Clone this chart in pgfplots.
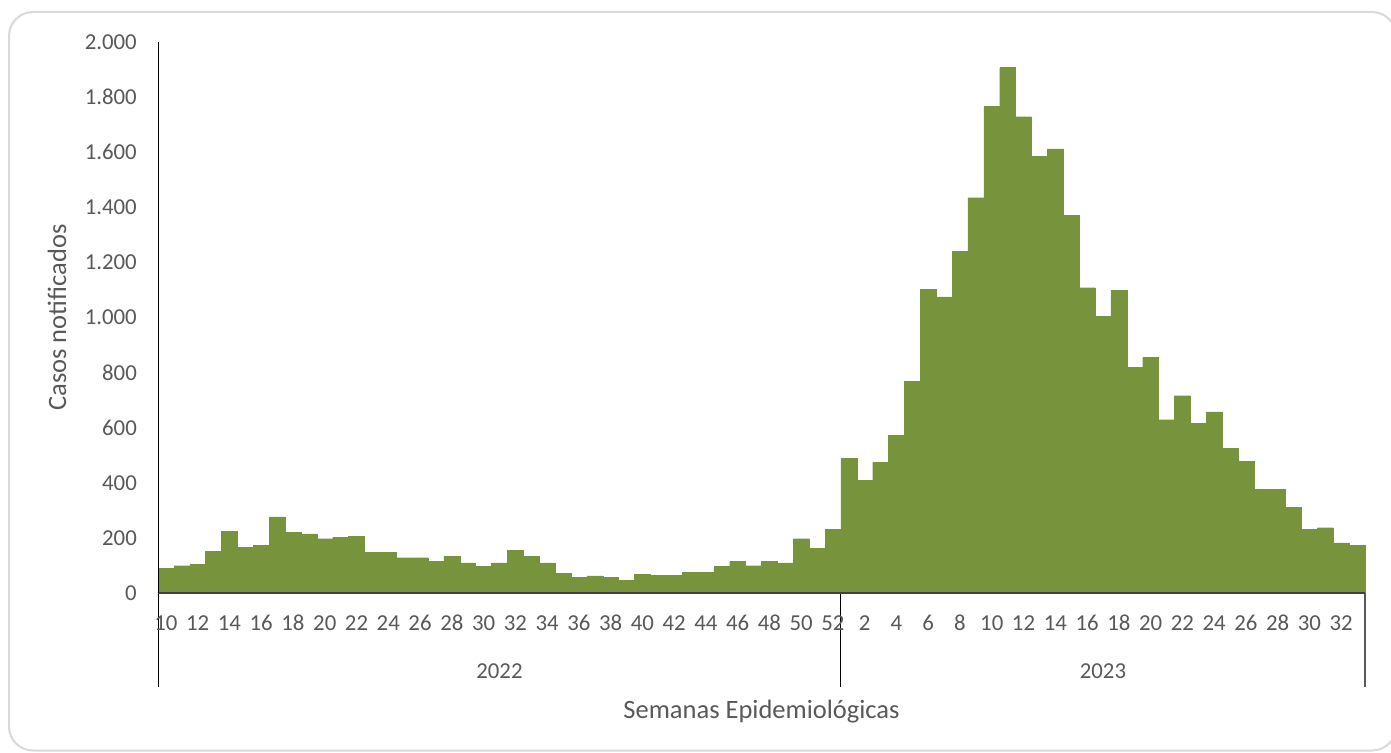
\documentclass[border=0pt]{standalone}
\usepackage{fontspec}
\setmainfont{Carlito}
\usepackage{pgfplots}
\usepackage{pgfplotstable}
\pgfplotsset{compat=1.18}
\definecolor{barc}{RGB}{119,147,60}
\definecolor{txt}{RGB}{89,89,89}
\definecolor{bord}{RGB}{217,217,217}
\definecolor{xline}{RGB}{64,64,64}
% index: 0..42 = 2022 weeks 10..52 ; 43..75 = 2023 weeks 1..33
\pgfplotstableread{
x y
0 90
1 99
2 104
3 151
4 225
5 165
6 174
7 276
8 220
9 215
10 197
11 202
12 206
13 148
14 147
15 128
16 128
17 115
18 132
19 109
20 97
21 109
22 155
23 132
24 109
25 71
26 57
27 62
28 57
29 45
30 67
31 63
32 63
33 76
34 76
35 96
36 114
37 99
38 114
39 109
40 197
41 161
42 230
43 488
44 409
45 474
46 573
47 769
48 1103
49 1075
50 1241
51 1435
52 1766
53 1907
54 1729
55 1586
56 1612
57 1370
58 1108
59 1005
60 1099
61 819
62 855
63 629
64 716
65 615
66 657
67 526
68 479
69 376
70 376
71 311
72 232
73 237
74 182
75 172
}\datatable
\begin{document}
\begin{tikzpicture}
\useasboundingbox (0,0) rectangle (1391pt,752pt);
\fill[white] (0,0) rectangle (1391pt,752pt);
\draw[bord, line width=2pt, rounded corners=24pt] (9pt,740pt) rectangle (1396pt,1.5pt);
\begin{axis}[
  at={(158pt,159pt)}, anchor=south west,
  scale only axis, width=1207pt, height=551pt,
  xmin=-0.5, xmax=75.5, ymin=0, ymax=2000,
  enlargelimits=false,
  clip=false,
  axis on top,
  axis x line*=bottom, axis y line*=left,
  x axis line style={draw=xline, line width=1.6pt, -},
  y axis line style={draw=black, line width=1pt, -},
  major tick length=0pt,
  xtick={0,2,...,74},
  xticklabels={10,12,14,16,18,20,22,24,26,28,30,32,34,36,38,40,42,44,46,48,50,52,2,4,6,8,10,12,14,16,18,20,22,24,26,28,30,32},
  ytick={0,200,...,2000},
  /pgf/number format/.cd, 1000 sep={.}, assume math mode=true,
  /pgfplots/.cd,
  xticklabel style={font=\fontsize{22.8}{27}\selectfont, text=txt, anchor=center, inner sep=0pt, yshift=-30pt},
  yticklabel style={font=\fontsize{22.8}{27}\selectfont, text=txt, anchor=east, inner sep=0pt, xshift=-21pt},
  xlabel={Semanas Epidemiológicas},
  ylabel={Casos notificados},
  xlabel style={font=\fontsize{26.5}{31}\selectfont, text=txt, at={(axis description cs:0.5,0)}, anchor=base, yshift=-125pt},
  ylabel style={font=\fontsize{26.5}{31}\selectfont, text=txt, at={(axis description cs:-0.0762,0.5)}, anchor=base, rotate=0},
]
\addplot[ybar, bar width=1, bar shift=0pt, fill=barc, draw=barc, line width=0.3pt] table[x=x,y=y] {\datatable};
\draw[black, line width=1pt] (axis cs:-0.5,0) -- ++(0pt,-94pt);
\draw[black, line width=1pt] (axis cs:42.5,0) -- ++(0pt,-94pt);
\draw[txt, line width=1.2pt] (axis cs:75.5,0) -- ++(0pt,-94pt);
\node[font=\fontsize{22.8}{27}\selectfont, text=txt, anchor=center] at (axis cs:21,0) [yshift=-78pt] {2022};
\node[font=\fontsize{22.8}{27}\selectfont, text=txt, anchor=center] at (axis cs:59,0) [yshift=-78pt] {2023};
\end{axis}
\end{tikzpicture}
\end{document}
